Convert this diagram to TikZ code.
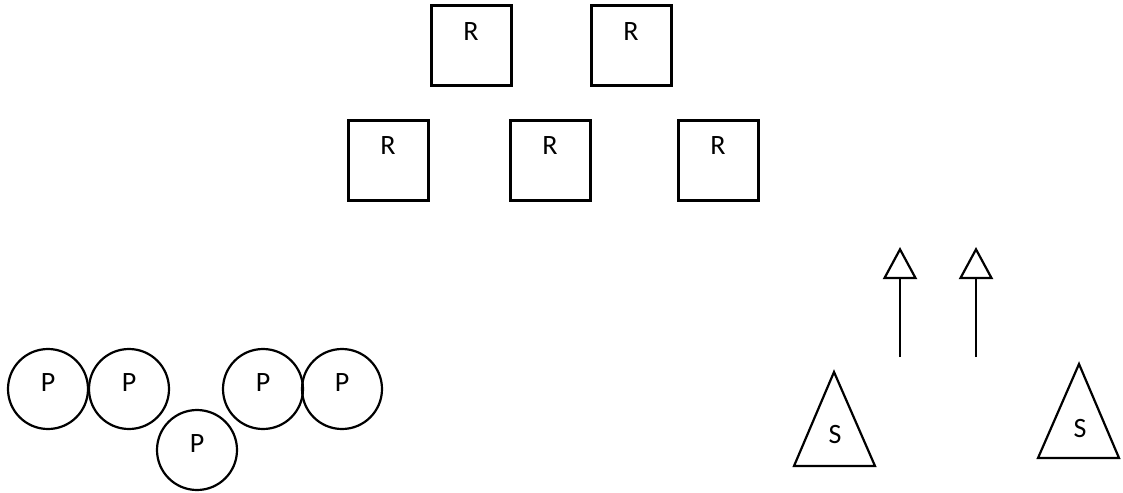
\documentclass[tikz,border=0pt]{standalone}
\usepackage{fontspec}
\usepackage{tikz}
\usetikzlibrary{arrows.meta}
\setmainfont{Carlito}
\newcommand{\lblfont}{\fontsize{14}{16}\selectfont}

\begin{document}
\begin{tikzpicture}[x=0.5pt, y=-0.5pt, font=\lblfont,
  rbox/.style={draw, line width=1.5pt, minimum size=40pt, inner sep=0pt,
               label={[yshift=7pt]center:R}},
  pcirc/.style={draw, circle, line width=1.1pt, minimum size=40pt, inner sep=0pt,
                label={[yshift=3pt]center:P}},
  tri/.style={draw, line width=1.1pt, line join=miter},
  uparrow/.style={line width=1.2pt, -{Triangle[open, length=16pt, width=17pt, line width=1.1pt]}}]
\useasboundingbox (0,0) rectangle (1123,492);

% squares
\node[rbox] (r1) at (471,46) {};
\node[rbox] (r2) at (631,46) {};
\node[rbox] (r3) at (388,160) {};
\node[rbox] (r4) at (550,160) {};
\node[rbox] (r5) at (718,160) {};

% circles
\node[pcirc] (p1) at (48,389) {};
\node[pcirc] (p2) at (129,389) {};
\node[pcirc] (p3) at (197,450) {};
\node[pcirc] (p4) at (263,389) {};
\node[pcirc] (p5) at (342,389) {};

% triangles
\coordinate (s1top) at (834,372);
\draw[tri] (s1top) -- (875,466) -- (794,466) -- cycle;
\node (s1) at (835,435) {S};
\coordinate (s2top) at (1079,364);
\draw[tri] (s2top) -- (1119,458) -- (1038,458) -- cycle;
\node (s2) at (1080,429) {S};

% arrows
\coordinate (a1low) at (900,357);
\coordinate (a1tip) at (900,247);
\coordinate (a2low) at (976,357);
\coordinate (a2tip) at (976,247);
\draw[uparrow] (a1low) -- (a1tip);
\draw[uparrow] (a2low) -- (a2tip);
\end{tikzpicture}
\end{document}
